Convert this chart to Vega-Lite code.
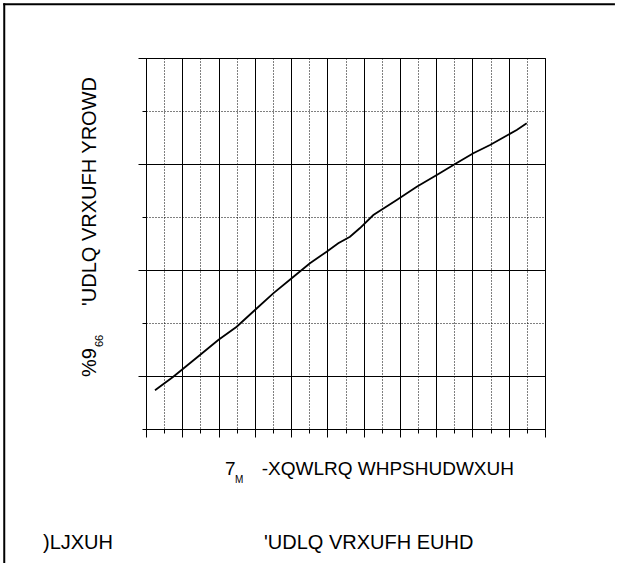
{
  "$schema": "https://vega.github.io/schema/vega-lite/v6.json",
  "width": 399,
  "height": 371,
  "autosize": {"type": "none"},
  "padding": {"left": 146, "top": 58, "right": 72, "bottom": 134},
  "background": "white",
  "config": {
    "view": {"stroke": "black", "strokeWidth": 1}
  },
  "layer": [
    {
      "data": {
        "values": [
          {"t": -68.8, "bv": 0.8865},
          {"t": -56.2, "bv": 0.8993},
          {"t": -37.8, "bv": 0.9198},
          {"t": -25.2, "bv": 0.934},
          {"t": -12.5, "bv": 0.9465},
          {"t": 0.1, "bv": 0.9623},
          {"t": 12.7, "bv": 0.978},
          {"t": 25.4, "bv": 0.9922},
          {"t": 38.0, "bv": 1.0063},
          {"t": 49.5, "bv": 1.0173},
          {"t": 57.5, "bv": 1.0252},
          {"t": 65.6, "bv": 1.0314},
          {"t": 72.5, "bv": 1.0396},
          {"t": 81.7, "bv": 1.0519},
          {"t": 97.8, "bv": 1.066},
          {"t": 111.6, "bv": 1.0786},
          {"t": 125.4, "bv": 1.0896},
          {"t": 138.0, "bv": 1.1},
          {"t": 150.6, "bv": 1.1101},
          {"t": 162.1, "bv": 1.1179},
          {"t": 180.5, "bv": 1.1321},
          {"t": 187.4, "bv": 1.1384}
        ]
      },
      "mark": {"type": "line", "color": "black", "strokeWidth": 1.8},
      "encoding": {
        "x": {
          "field": "t",
          "type": "quantitative",
          "scale": {"domain": [-75, 200], "nice": false, "zero": false},
          "axis": {
            "title": null,
            "labels": false,
            "tickCount": 60,
            "values": [-75, -62.5, -50, -37.5, -25, -12.5, 0, 12.5, 25, 37.5, 50, 62.5, 75, 87.5, 100, 112.5, 125, 137.5, 150, 162.5, 175, 187.5, 200],
            "grid": true,
            "gridColor": "black",
            "gridWidth": 1,
            "gridDash": {"condition": {"test": "abs(datum.value % 25) < 0.001", "value": []}, "value": [1, 2]},
            "tickSize": {"condition": {"test": "abs(datum.value % 25) < 0.001", "value": 8}, "value": 4},
            "tickColor": "black",
            "tickWidth": 1,
            "domainColor": "black",
            "domainWidth": 1
          }
        },
        "y": {
          "field": "bv",
          "type": "quantitative",
          "scale": {"domain": [0.85, 1.2], "nice": false, "zero": false},
          "axis": {
            "title": null,
            "labels": false,
            "tickCount": 60,
            "values": [0.85, 0.9, 0.95, 1.0, 1.05, 1.1, 1.15, 1.2],
            "grid": true,
            "gridColor": "black",
            "gridWidth": 1,
            "gridDash": {"condition": {"test": "round(datum.value * 100) % 10 == 0", "value": []}, "value": [1, 2]},
            "tickSize": {"condition": {"test": "round(datum.value * 100) % 10 == 0", "value": 8}, "value": 4},
            "tickColor": "black",
            "tickWidth": 1,
            "domainColor": "black",
            "domainWidth": 1
          }
        }
      }
    },
    {
      "data": {"values": [{}]},
      "mark": {"type": "rule", "color": "black", "strokeWidth": 2},
      "encoding": {
        "x": {"datum": -173.4, "type": "quantitative", "title": null, "scale": {"domain": [-75, 200], "nice": false, "zero": false}},
        "x2": {"datum": 248.2, "type": "quantitative"},
        "y": {"datum": 1.2507, "type": "quantitative", "title": null, "scale": {"domain": [0.85, 1.2], "nice": false, "zero": false}}
      }
    },
    {
      "data": {"values": [{}]},
      "mark": {"type": "rule", "color": "black", "strokeWidth": 2},
      "encoding": {
        "x": {"datum": -172.7, "type": "quantitative", "title": null, "scale": {"domain": [-75, 200], "nice": false, "zero": false}},
        "y": {"datum": 1.2516, "type": "quantitative", "title": null, "scale": {"domain": [0.85, 1.2], "nice": false, "zero": false}},
        "y2": {"datum": 0.7, "type": "quantitative"}
      }
    },
    {
      "data": {"values": [{}]},
      "mark": {"type": "text", "angle": 270, "align": "left", "baseline": "alphabetic", "fontSize": 20, "font": "Liberation Sans", "fill": "black"},
      "encoding": {
        "x": {"datum": -109.46, "type": "quantitative", "title": null, "scale": {"domain": [-75, 200], "nice": false, "zero": false}},
        "y": {"datum": 0.89906, "type": "quantitative", "title": null, "scale": {"domain": [0.85, 1.2], "nice": false, "zero": false}},
        "text": {"value": "%9"}
      }
    },
    {
      "data": {"values": [{}]},
      "mark": {"type": "text", "angle": 270, "align": "left", "baseline": "alphabetic", "fontSize": 11, "font": "Liberation Sans", "fill": "black"},
      "encoding": {
        "x": {"datum": -104.84, "type": "quantitative", "title": null, "scale": {"domain": [-75, 200], "nice": false, "zero": false}},
        "y": {"datum": 0.92736, "type": "quantitative", "title": null, "scale": {"domain": [0.85, 1.2], "nice": false, "zero": false}},
        "text": {"value": "66"}
      }
    },
    {
      "data": {"values": [{}]},
      "mark": {"type": "text", "angle": 270, "align": "left", "baseline": "alphabetic", "fontSize": 20, "font": "Liberation Sans", "fill": "black"},
      "encoding": {
        "x": {"datum": -109.46, "type": "quantitative", "title": null, "scale": {"domain": [-75, 200], "nice": false, "zero": false}},
        "y": {"datum": 0.966, "type": "quantitative", "title": null, "scale": {"domain": [0.85, 1.2], "nice": false, "zero": false}},
        "text": {"value": "'UDLQ VRXUFH YROWD"}
      }
    },
    {
      "data": {"values": [{}]},
      "mark": {"type": "text", "align": "left", "baseline": "alphabetic", "fontSize": 19, "font": "Liberation Sans", "fill": "black"},
      "encoding": {
        "x": {"datum": -20.55, "type": "quantitative", "title": null, "scale": {"domain": [-75, 200], "nice": false, "zero": false}},
        "y": {"datum": 0.8066, "type": "quantitative", "title": null, "scale": {"domain": [0.85, 1.2], "nice": false, "zero": false}},
        "text": {"value": "7"}
      }
    },
    {
      "data": {"values": [{}]},
      "mark": {"type": "text", "align": "left", "baseline": "alphabetic", "fontSize": 10, "font": "Liberation Sans", "fill": "black"},
      "encoding": {
        "x": {"datum": -13.66, "type": "quantitative", "title": null, "scale": {"domain": [-75, 200], "nice": false, "zero": false}},
        "y": {"datum": 0.79877, "type": "quantitative", "title": null, "scale": {"domain": [0.85, 1.2], "nice": false, "zero": false}},
        "text": {"value": "M"}
      }
    },
    {
      "data": {"values": [{}]},
      "mark": {"type": "text", "align": "left", "baseline": "alphabetic", "fontSize": 19, "font": "Liberation Sans", "fill": "black"},
      "encoding": {
        "x": {"datum": 4.74, "type": "quantitative", "title": null, "scale": {"domain": [-75, 200], "nice": false, "zero": false}},
        "y": {"datum": 0.8066, "type": "quantitative", "title": null, "scale": {"domain": [0.85, 1.2], "nice": false, "zero": false}},
        "text": {"value": "-XQWLRQ WHPSHUDWXUH"}
      }
    },
    {
      "data": {"values": [{}]},
      "mark": {"type": "text", "align": "left", "baseline": "alphabetic", "fontSize": 20, "font": "Liberation Sans", "fill": "black"},
      "encoding": {
        "x": {"datum": -146.0, "type": "quantitative", "title": null, "scale": {"domain": [-75, 200], "nice": false, "zero": false}},
        "y": {"datum": 0.73679, "type": "quantitative", "title": null, "scale": {"domain": [0.85, 1.2], "nice": false, "zero": false}},
        "text": {"value": ")LJXUH"}
      }
    },
    {
      "data": {"values": [{}]},
      "mark": {"type": "text", "align": "left", "baseline": "alphabetic", "fontSize": 20, "font": "Liberation Sans", "fill": "black"},
      "encoding": {
        "x": {"datum": 6.33, "type": "quantitative", "title": null, "scale": {"domain": [-75, 200], "nice": false, "zero": false}},
        "y": {"datum": 0.73679, "type": "quantitative", "title": null, "scale": {"domain": [0.85, 1.2], "nice": false, "zero": false}},
        "text": {"value": "'UDLQ VRXUFH EUHD"}
      }
    }
  ]
}
